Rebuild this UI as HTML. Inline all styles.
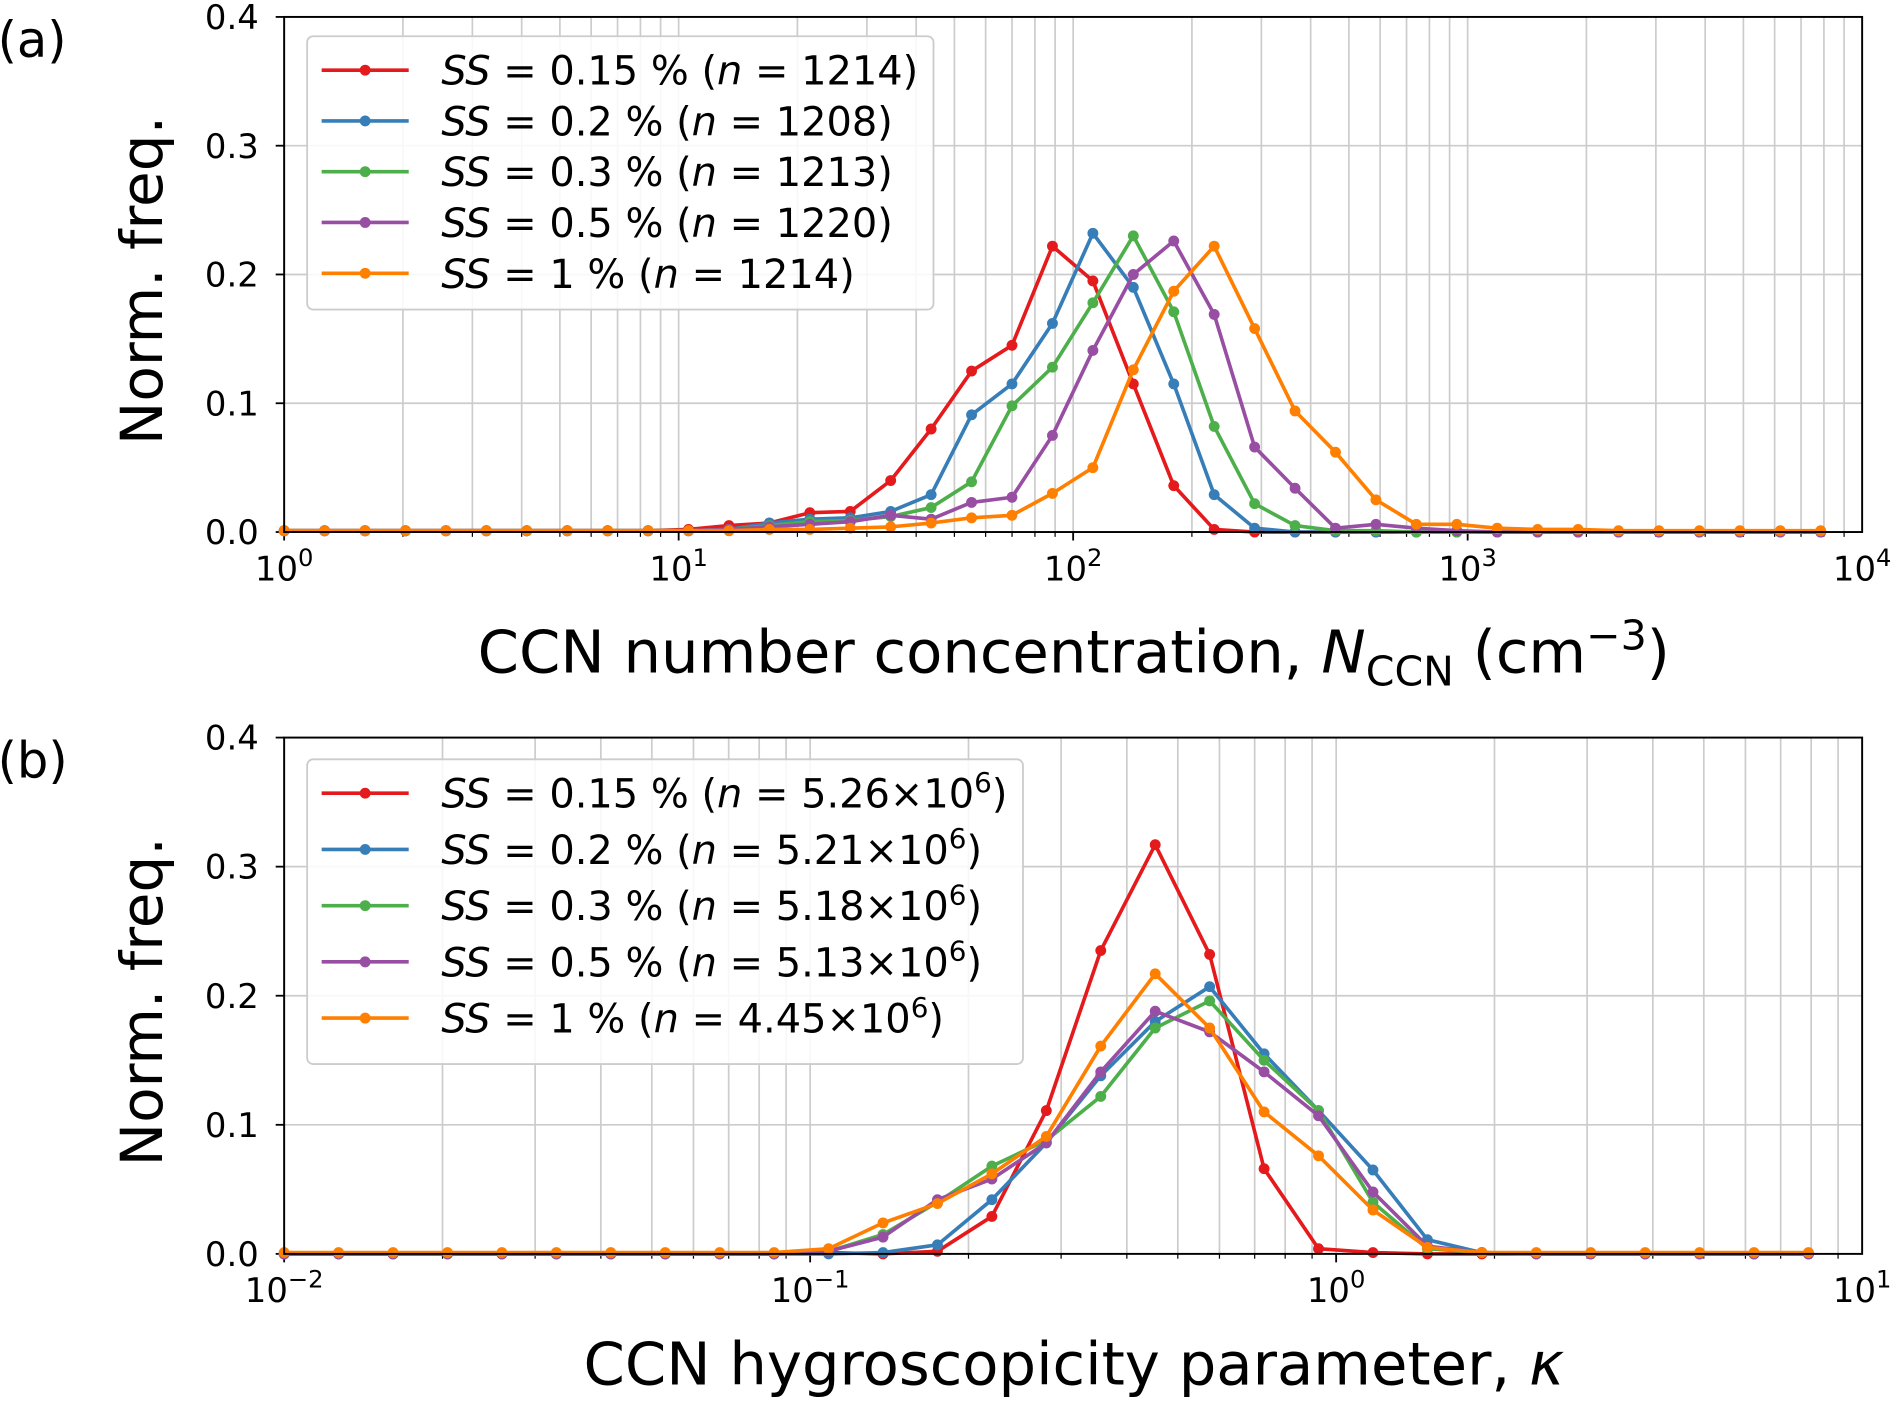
<!DOCTYPE html>
<html><head><meta charset="utf-8"><style>
html,body{margin:0;padding:0;background:#fff;}
svg{display:block;font-family:"DejaVu Sans","Liberation Sans",sans-serif;}
</style></head><body>
<svg id="fig" width="1896" height="1402" viewBox="0 0 1568 1159.5" preserveAspectRatio="none" xmlns="http://www.w3.org/2000/svg"></svg>
<script>
const colors=["#e41a1c","#377eb8","#4daf4a","#984ea3","#ff7f00"];
// Panel (a) data: bin index k -> N = 10^(0.1025k)
const aStep=0.1025;
const aRed=[0.001,0.001,0.001,0.001,0.001,0.001,0.001,0.001,0.001,0.001,0.002,0.005,0.007,0.015,0.016,0.04,0.08,0.125,0.145,0.222,0.195,0.115,0.036,0.002,0,0,0,0,0,0,0,0,0,0,0,0,0,0,0];
const aBlue=[0.001,0.001,0.001,0.001,0.001,0.001,0.001,0.001,0.001,0.001,0.001,0.002,0.007,0.01,0.011,0.016,0.029,0.091,0.115,0.162,0.232,0.19,0.115,0.029,0.003,0,0,0,0,0,0,0,0,0,0,0,0,0,0];
const aGreen=[0.001,0.001,0.001,0.001,0.001,0.001,0.001,0.001,0.001,0.001,0.001,0.002,0.005,0.008,0.009,0.012,0.019,0.039,0.098,0.128,0.178,0.23,0.171,0.082,0.022,0.005,0.001,0.001,0,0,0,0,0,0,0,0,0,0,0];
const aPurple=[0.001,0.001,0.001,0.001,0.001,0.001,0.001,0.001,0.001,0.001,0.001,0.002,0.004,0.006,0.008,0.013,0.01,0.023,0.027,0.075,0.141,0.2,0.226,0.169,0.066,0.034,0.003,0.006,0.003,0.001,0,0,0,0,0,0,0,0,0];
const aOrange=[0.001,0.001,0.001,0.001,0.001,0.001,0.001,0.001,0.001,0.001,0.001,0.001,0.002,0.002,0.003,0.004,0.007,0.011,0.013,0.03,0.05,0.126,0.187,0.222,0.158,0.094,0.062,0.025,0.006,0.006,0.003,0.002,0.002,0.001,0.001,0.001,0.001,0.001,0.001];
const aLegend=["0.15 % (","0.2 % (","0.3 % (","0.5 % (","1 % ("];
const aN=["1214","1208","1213","1220","1214"];
// Panel (b) data: kappa = 10^(-2 + 0.1035k)
const bStep=0.1035;
const bRed=[0,0,0,0,0,0,0,0,0,0,0.001,0,0.002,0.029,0.111,0.235,0.317,0.232,0.066,0.004,0.001,0,0,0,0,0,0,0,0];
const bBlue=[0,0,0,0,0,0,0,0,0,0,0,0.001,0.007,0.042,0.086,0.138,0.18,0.207,0.155,0.111,0.065,0.011,0.001,0,0,0,0,0,0];
const bGreen=[0,0,0,0,0,0,0,0,0,0,0.002,0.015,0.04,0.068,0.088,0.122,0.175,0.196,0.15,0.111,0.04,0.004,0.001,0,0,0,0,0,0];
const bPurple=[0,0,0,0,0,0,0,0,0,0,0.002,0.013,0.042,0.058,0.086,0.141,0.188,0.172,0.141,0.107,0.048,0.006,0.001,0,0,0,0,0,0];
const bOrange=[0.001,0.001,0.001,0.001,0.001,0.001,0.001,0.001,0.001,0.001,0.004,0.024,0.039,0.062,0.091,0.161,0.217,0.175,0.11,0.076,0.034,0.005,0.001,0.001,0.001,0.001,0.001,0.001,0.001];
const bLegend=["0.15 % (","0.2 % (","0.3 % (","0.5 % (","1 % ("];
const bN=["5.26","5.21","5.18","5.13","4.45"];
const yTicks=["0.0","0.1","0.2","0.3","0.4"];

const NS="http://www.w3.org/2000/svg";
const svg=document.getElementById('fig');
function mk(tag,attrs,parent){const e=document.createElementNS(NS,tag);for(const k in attrs)e.setAttribute(k,attrs[k]);(parent||svg).appendChild(e);return e;}

function panel(opt){
  const L=235,R=1540,T=opt.top,B=opt.bottom;
  const g=mk('g',{});
  
  
  const xs=lx=>L+(lx-opt.lmin)/(opt.lmax-opt.lmin)*(R-L);
  const ys=v=>B-v/0.4*(B-T);
  const grid=mk('g',{stroke:'#cccccc','stroke-width':1.4},g);
  
  
  for(let d=opt.lmin;d<opt.lmax;d++){for(let m=1;m<10;m++){const x=xs(d+Math.log10(m));mk('line',{x1:x,x2:x,y1:T,y2:B},grid);
    mk('line',{x1:x,x2:x,y1:B,y2:B+(m==1?7:4),stroke:'#000','stroke-width':m==1?1.5:1},g);}}
  for(let i=1;i<4;i++){mk('line',{x1:L,x2:R,y1:ys(i*0.1),y2:ys(i*0.1)},grid);}
  yTicks.forEach((t,i)=>{const y=ys(i*0.1);mk('line',{x1:L-7,x2:L,y1:y,y2:y,stroke:'#000','stroke-width':1.5},g);
    const tx=mk('text',{x:L-21,y:y+10,'text-anchor':'end','font-size':28},g);tx.textContent=t;
    
    });
  for(let d=opt.lmin;d<=opt.lmax;d++){const x=xs(d);
    const tx=mk('text',{x:x,y:B+40,'text-anchor':'middle','font-size':28},g);
    
    
    tx.innerHTML='10<tspan dy="-12" font-size="20">'+String(d).replace('-','\u2212')+'</tspan>';}
  opt.series.forEach((arr,si)=>{
    const sg=mk('g',{},g);
    
    
    const pts=arr.map((v,k)=>[xs(opt.lstart+opt.step*k),ys(v)]);
    mk('polyline',{points:pts.map(p=>p.join(',')).join(' '),fill:'none',stroke:colors[si],'stroke-width':3,'stroke-linejoin':'round'},sg);
    pts.forEach(p=>{const c=mk('circle',{cx:p[0],cy:p[1],r:4.5,fill:colors[si]},sg);
      
      });
  });
  const sp=mk('rect',{x:L,y:T,width:R-L,height:B-T,fill:'none',stroke:'#000','stroke-width':1.6},g);
  
  
  const lg=mk('g',{},g);
  
  
  mk('rect',{x:254,y:opt.legTop,width:opt.legW,height:opt.legH,rx:5,fill:'rgba(255,255,255,0.85)',stroke:'#cccccc','stroke-width':1.5},lg);
  opt.legLabels.forEach((t,i)=>{
    const y=opt.legTop+28+i*opt.legGap;
    const e=mk('g',{},lg);
    
    
    mk('line',{x1:266,x2:338,y1:y,y2:y,stroke:colors[i],'stroke-width':3},e);
    mk('circle',{cx:302,cy:y,r:4.5,fill:colors[i]},e);
    const tx=mk('text',{x:365,y:y+12,'font-size':33},e);
    tx.innerHTML='<tspan font-style="italic">SS</tspan> = '+t+'<tspan font-style="italic">n</tspan> = '+opt.legN[i]+(opt.sci?'×10<tspan dy="-13" font-size="23">6</tspan><tspan dy="13">)</tspan>':')');
  });
  const xl=mk('text',{x:opt.xlx,y:B+opt.xly,'text-anchor':'middle','font-size':49},g);
  
  
  xl.innerHTML=opt.xlabel;
  const yl=mk('text',{x:0,y:0,'text-anchor':'middle','font-size':48,transform:'translate(134,'+((T+B)/2+5)+') rotate(-90)'},g);
  
  
  yl.textContent='Norm. freq.';
  const pl=mk('text',{x:-2,y:T+33,'font-size':41},g);
  
  
  pl.textContent=opt.plabel;
}
panel({name:'panel-a',top:14,bottom:440,lmin:0,lmax:4,lstart:0,step:aStep,series:[aRed,aBlue,aGreen,aPurple,aOrange],keys:['ss-0.15','ss-0.2','ss-0.3','ss-0.5','ss-1'],
  legTop:30,legW:518,legH:226,legGap:42,legLabels:aLegend,legN:aN,sci:false,plabel:'(a)',xlx:888,xly:116,
  xlabel:'CCN number concentration, <tspan font-style="italic">N</tspan><tspan dy="11" font-size="34">CCN</tspan><tspan dy="-11"> (cm</tspan><tspan dy="-19" font-size="34">\u22123</tspan><tspan dy="19">)</tspan>'});
panel({name:'panel-b',top:610,bottom:1037,lmin:-2,lmax:1,lstart:-2,step:bStep,series:[bRed,bBlue,bGreen,bPurple,bOrange],keys:['ss-0.15','ss-0.2','ss-0.3','ss-0.5','ss-1'],
  legTop:628,legW:592,legH:252,legGap:46.5,legLabels:bLegend,legN:bN,sci:true,plabel:'(b)',xlx:888,xly:108,
  xlabel:'CCN hygroscopicity parameter, <tspan font-style="italic">κ</tspan>'});
</script>
</body></html>
